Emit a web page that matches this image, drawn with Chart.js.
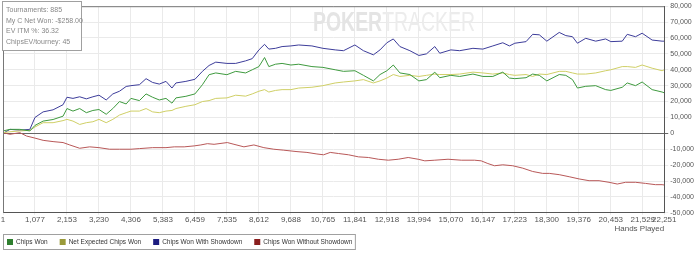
<!DOCTYPE html>
<html lang="en">
<head>
  <meta charset="UTF-8" />
  <title>Chips Won - Hands Played</title>
  <script src="https://cdn.jsdelivr.net/npm/chart.js"></script>
  <style>
    body { margin: 0; background: #fff; font-family: Arial, "Liberation Sans", sans-serif; }
    #wrap { width: 700px; height: 254px; }
  </style>
</head>
<body>
  <div id="wrap"><canvas id="myChart" width="700" height="254"></canvas></div>

  <script>
    // x tick labels (hands)
    const xTicks = [1, 1077, 2153, 3230, 4306, 5383, 6459, 7535, 8612, 9688, 10765,
      11841, 12918, 13994, 15070, 16147, 17223, 18300, 19376, 20453, 21529, 22251];

    // hands at which the first three series were read
    const hands = [1, 236, 570, 905, 1077, 1351, 1686, 2021, 2153, 2356, 2581, 2805, 3026, 3230,
      3474, 3697, 3921, 4145, 4306, 4591, 4815, 5036, 5260, 5485, 5686, 5820, 6155, 6459, 6711,
      6935, 7160, 7535, 7830, 8165, 8387, 8612, 8802, 8946, 9170, 9391, 9688, 9951, 10396, 10765,
      11180, 11458, 11841, 12128, 12463, 12687, 12918, 13133, 13357, 13692, 13994, 14249, 14530,
      14697, 15070, 15367, 15813, 16147, 16483, 16818, 17042, 17223, 17600, 17823, 18046, 18300,
      18717, 18939, 19163, 19330, 19609, 19944, 20279, 20453, 20838, 21005, 21284, 21507, 21843,
      22178, 22251];

    const chipsWon = [1500, 2500, 2500, 1500, 5000, 7700, 8700, 10800, 15600, 14000, 15600, 13000,
      14400, 15000, 12000, 15600, 20000, 18500, 22000, 20600, 24800, 22700, 21000, 22000, 19000,
      22300, 23300, 24800, 30600, 36900, 38000, 36900, 39000, 38000, 40000, 42000, 47700, 42000,
      43500, 44000, 43000, 43500, 42000, 41500, 40000,
      39000, 39400, 36500, 33000, 37000, 39400, 43000, 38000, 37000, 33000, 33800, 38500, 35000,
      36500, 35800, 37300, 35800, 35800, 38500, 34800, 34400, 35000, 37300, 36500, 33000, 37000,
      36500, 33800, 28500, 29600, 30000, 27500, 27000, 29000, 31700, 30000, 32300, 27500, 26000, 25500];

    const netExpected = [400, 1000, 1500, 1900, 4000, 6700, 6700, 8000, 8800, 7700, 5600, 6700,
      7300, 8800, 6700, 8800, 11500, 13000, 14000, 14000, 15600, 13500, 13000, 14000, 14400, 15600,
      17000, 18000, 20000, 20600, 22000, 22300, 24000, 23400, 24800, 26500, 27500, 26000, 27000,
      27500, 27500, 28500, 29000, 30000, 31700,
      32300, 33000, 33800, 31700, 33000, 34800, 37000, 35800, 36500, 35800, 36500, 37300, 37000,
      37000, 37300, 38500, 38000, 37300, 38000, 37000, 36500, 37000, 35800, 37300, 37000, 39000,
      39000, 38000, 37300, 37300, 38000, 39400, 40000, 42000, 42000, 41500, 43000, 41000, 39400, 40000];

    const withShowdown = [0, 2500, 2000, 2500, 10000, 13500, 14800, 18000, 22700, 22000, 23000,
      21700, 23000, 24000, 21000, 24800, 26500, 29500, 30000, 30600, 34400, 32000, 31000, 32700,
      28500, 31700, 32700, 34000, 39000, 42700, 44800, 44000, 44000, 45600, 47000, 52500, 56000,
      53000, 53500, 54600, 55000, 55600, 55000, 53500, 52500,
      52000, 55600, 52000, 49400, 52500, 57000, 59400, 54600, 52000, 49000, 50000, 54600, 50400,
      52500, 52000, 53500, 53000, 55000, 57000, 55000, 56700, 57700, 62300, 62000, 58000, 63500,
      61500, 60800, 56700, 59800, 58000, 59400, 57700, 58000, 62300, 60800, 63000, 58700, 58000, 58000];

    // red series was read at its own hand counts
    const handsNoSd = [1, 236, 570, 795, 1077, 1351, 1686, 2021, 2246, 2581, 2916, 3230, 3586,
      3921, 4306, 4591, 5036, 5485, 5763, 6098, 6433, 6657, 6878, 7103, 7549, 7773, 8108, 8443,
      8778, 9113, 9448, 9893, 10228, 10564, 10788, 11012, 11291, 11626, 11961, 12296, 12631, 12966,
      13300, 13635, 13970, 14194, 14530, 14975, 15421, 15868, 16091, 16315, 16540, 16818, 17153,
      17488, 17823, 18158, 18382, 18717, 19052, 19387, 19722, 20057, 20392, 20670, 20949, 21284,
      21619, 21954, 22178, 22251];
    const withoutShowdown = [400, -600, 400, -1700, -3000, -4400, -5200, -5800, -7300, -9400,
      -8500, -9000, -10000, -10000, -10000, -9600, -9000, -9000, -8500, -8500, -7900, -7300, -6500,
      -6900, -5800, -6900, -8500, -7300, -9000, -10000, -10600, -11500, -12000, -13000, -13500,
      -12000, -12700, -13500, -14800, -15200, -16300, -16900, -16300, -15200, -16300, -17300,
      -16900, -16300, -16900, -16900, -17300, -19000, -20400, -19800, -20400, -21900, -24000,
      -25200, -25200, -26000, -27300, -28700, -29800, -29800, -30800, -31900, -30800, -30800,
      -31500, -32300, -32300, -32500];

    const infoLines = ['Tournaments: 885', 'My C Net Won: -$258.00', 'EV ITM %: 36.32', 'ChipsEV/tourney: 45'];

    function pts(xs, ys) {
      return xs.map((x, i) => ({ x: x, y: ys[i] }));
    }

    const FONT = 'Arial, "Liberation Sans", sans-serif';

    // watermark, info box, plot frame and a boxed legend
    const extras = {
      id: 'extras',
      beforeDatasetsDraw(chart) {
        const c = chart.ctx;
        c.save();
        c.textBaseline = 'middle';
        c.translate(313, 24);
        c.scale(0.72, 1);
        c.font = 'bold 27px ' + FONT;
        c.fillStyle = '#e4e4e4';
        c.fillText('POKER', 0, 0);
        const w1 = c.measureText('POKER').width;
        c.font = '27px ' + FONT;
        c.fillStyle = '#ececec';
        c.fillText('TRACKER', w1, 0);
        c.restore();
      },
      afterDraw(chart) {
        const c = chart.ctx;
        const a = chart.chartArea;
        c.save();
        // frame top + left
        c.strokeStyle = '#777';
        c.lineWidth = 1;
        c.beginPath();
        c.moveTo(a.left + 0.5, a.bottom);
        c.lineTo(a.left + 0.5, a.top + 0.5);
        c.lineTo(a.right, a.top + 0.5);
        c.stroke();

        // info box
        c.fillStyle = '#fff';
        c.fillRect(2, 1, 79, 49);
        c.strokeStyle = '#a0a0a0';
        c.strokeRect(2.5, 1.5, 79, 49);
        c.fillStyle = '#888';
        c.font = '7px ' + FONT;
        c.textBaseline = 'middle';
        infoLines.forEach((t, i) => c.fillText(t, 6, 10 + i * 10.7));

        // legend
        c.font = '6.5px ' + FONT;
        let x = 7;
        const y = 242;
        chart.data.datasets.forEach((ds) => {
          c.fillStyle = ds.backgroundColor;
          c.fillRect(x, y - 3, 6, 6);
          c.fillStyle = '#333';
          c.fillText(ds.label, x + 9, y);
          x += 9 + c.measureText(ds.label).width + 12;
        });
        c.strokeStyle = '#a0a0a0';
        c.strokeRect(3.5, 234.5, x - 12 + 3 - 3.5, 15);
        c.restore();
      }
    };

    const ctx = document.getElementById('myChart').getContext('2d');
    const chart = new Chart(ctx, {
      type: 'line',
      data: {
        datasets: [
          { label: 'Chips Won', data: pts(hands, chipsWon), borderColor: '#3f9a3f', backgroundColor: '#2f7f2f' },
          { label: 'Net Expected Chips Won', data: pts(hands, netExpected), borderColor: '#cfcf66', backgroundColor: '#9a9a3a' },
          { label: 'Chips Won With Showdown', data: pts(hands, withShowdown), borderColor: '#3d3d9a', backgroundColor: '#1c1c80' },
          { label: 'Chips Won Without Showdown', data: pts(handsNoSd, withoutShowdown), borderColor: '#b85858', backgroundColor: '#8a1f1f' }
        ]
      },
      options: {
        responsive: false,
        animation: false,
        devicePixelRatio: 1,
        layout: { padding: { left: 3, top: 0, right: 4, bottom: 20 } },
        elements: {
          line: { borderWidth: 1, tension: 0 },
          point: { radius: 0 }
        },
        plugins: {
          legend: { display: false },
          tooltip: { enabled: false }
        },
        scales: {
          x: {
            type: 'linear',
            min: 1,
            max: 22251,
            afterBuildTicks: (axis) => { axis.ticks = xTicks.map(v => ({ value: v })); },
            ticks: {
              autoSkip: false,
              maxRotation: 0,
              color: '#555',
              padding: 0,
              font: { size: 8, family: FONT },
              callback: (v) => v.toLocaleString('en-US')
            },
            grid: { color: '#eaeaea', tickLength: 2 },
            border: { color: '#555' },
            title: {
              display: true,
              text: 'Hands Played',
              align: 'end',
              color: '#555',
              padding: { top: 0, bottom: 0 },
              font: { size: 8, family: FONT }
            }
          },
          y: {
            position: 'right',
            min: -50000,
            max: 80000,
            ticks: {
              stepSize: 10000,
              color: '#555',
              padding: 2,
              font: { size: 7, family: FONT }
            },
            grid: {
              color: (c) => (c.tick && c.tick.value === 0 ? '#666' : '#eaeaea'),
              tickLength: 4
            },
            border: { color: '#555' }
          }
        }
      },
      plugins: [extras]
    });
  </script>
</body>
</html>
